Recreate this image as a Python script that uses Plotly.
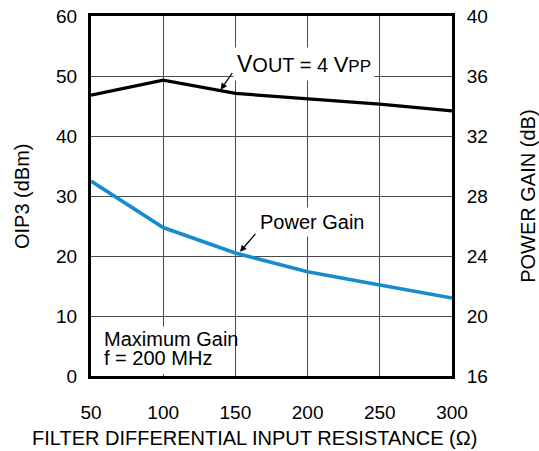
import plotly.graph_objects as go

resistance = [50, 100, 150, 200, 250, 300]
oip3_dbm = [46.8, 49.3, 47.1, 46.2, 45.3, 44.2]
power_gain_db = [29.0, 25.9, 24.2, 22.95, 22.07, 21.2]

x_ticks = [50, 100, 150, 200, 250, 300]
left_ticks = [0, 10, 20, 30, 40, 50, 60]
right_ticks = [16, 20, 24, 28, 32, 36, 40]

font_family = "Arial, Liberation Sans, sans-serif"
grid_color = "#4a4a4a"

fig = go.Figure()
fig.add_trace(go.Scatter(x=resistance, y=oip3_dbm, mode="lines",
                         line=dict(color="black", width=3.2),
                         showlegend=False, yaxis="y"))
fig.add_trace(go.Scatter(x=resistance, y=power_gain_db, mode="lines",
                         line=dict(color="#168ccc", width=3.6),
                         showlegend=False, yaxis="y2"))

ann_font = dict(family=font_family, size=20, color="black")

# white patch behind the corner note, between grid and traces
fig.add_shape(type="rect", xref="x", yref="y", x0=56, x1=143, y0=0.3, y1=8.2,
              fillcolor="white", line=dict(width=0), layer="between")

fig.add_annotation(x=148, y=52, xref="x", yref="y", xanchor="left", yanchor="middle",
                   text="<span style='font-size:23px'>V</span>OUT = 4 "
                        "<span style='font-size:22px'>V</span><span style='font-size:17px'>PP</span>",
                   showarrow=False, font=ann_font, bgcolor="white", borderpad=3)
fig.add_annotation(x=164, y=25.7, xref="x", yref="y", xanchor="left", yanchor="middle",
                   text="Power Gain", showarrow=False, font=ann_font,
                   bgcolor="white", borderpad=3)
fig.add_annotation(x=57.5, y=6.1, xref="x", yref="y", xanchor="left", yanchor="middle",
                   text="Maximum Gain", showarrow=False, font=ann_font)
fig.add_annotation(x=57.5, y=3.0, xref="x", yref="y", xanchor="left", yanchor="middle",
                   text="f = 200 MHz", showarrow=False, font=ann_font)

# pointer arrows
arrow_style = dict(showarrow=True, arrowhead=2, arrowsize=1, arrowwidth=1.3,
                   arrowcolor="black", text="", xref="x", yref="y", standoff=0)
fig.add_annotation(x=139.8, y=47.7, ax=12.6, ay=-18.3, **arrow_style)
fig.add_annotation(x=153.2, y=20.7, ax=16.7, ay=-19.4, **arrow_style)

# axis titles
title_font = dict(family=font_family, size=20, color="black")
fig.add_annotation(x=0.4529, y=-0.172, xref="paper", yref="paper",
                   xanchor="center", yanchor="middle", showarrow=False,
                   text="FILTER DIFFERENTIAL INPUT RESISTANCE (Ω)", font=title_font)
fig.add_annotation(x=-0.191, y=0.5, xref="paper", yref="paper", textangle=-90,
                   xanchor="center", yanchor="middle", showarrow=False,
                   text="OIP3 (dBm)", font=title_font)
fig.add_annotation(x=1.21, y=0.5, xref="paper", yref="paper", textangle=-90,
                   xanchor="center", yanchor="middle", showarrow=False,
                   text="POWER GAIN (dB)", font=title_font)

axis_common = dict(showline=True, linecolor="black", linewidth=3, ticks="",
                   tickfont=dict(family=font_family, size=19, color="black"),
                   ticklabeloverflow="allow",
                   zeroline=False, automargin=False)

fig.update_layout(
    width=539, height=451,
    margin=dict(l=91, r=87, t=16, b=75),
    plot_bgcolor="white", paper_bgcolor="white",
    font=dict(family=font_family, color="black"),
    xaxis=dict(range=[50, 300], tickvals=x_ticks, mirror=True,
               showgrid=True, gridcolor=grid_color, gridwidth=1,
               ticklabelstandoff=17, **axis_common),
    yaxis=dict(range=[0, 60], tickvals=left_ticks, mirror=True,
               showgrid=True, gridcolor=grid_color, gridwidth=1,
               ticklabelstandoff=7, **axis_common),
    yaxis2=dict(range=[16, 40], tickvals=right_ticks, overlaying="y", side="right",
                showgrid=False, ticklabelstandoff=8, **axis_common),
)

# drop the default body margin so the figure fills the window exactly
fig.write_html("out.html", config={"displayModeBar": False},
               post_script="document.body.style.margin='0';")
